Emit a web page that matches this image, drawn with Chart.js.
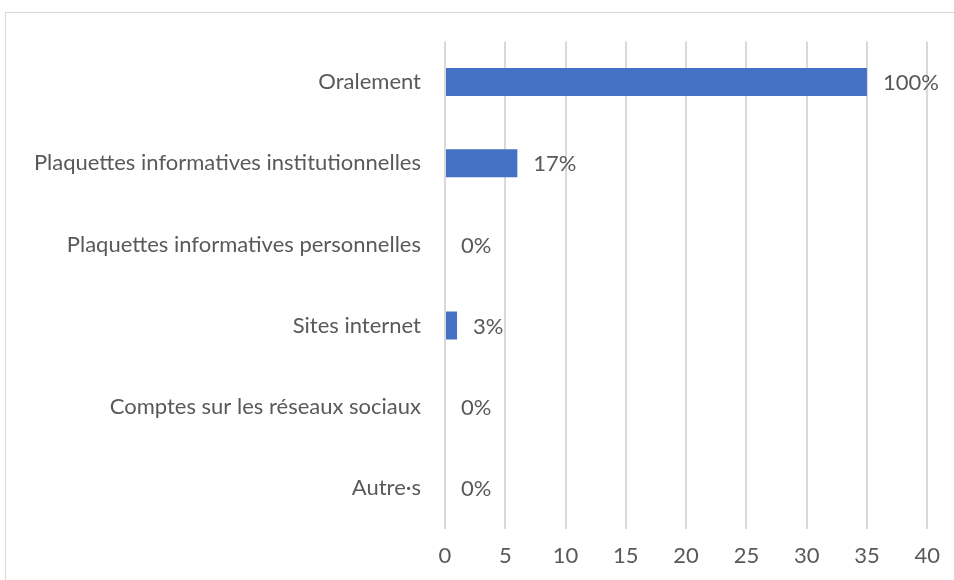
<!DOCTYPE html>
<html>
<head>
<meta charset="utf-8">
<script src="https://cdn.jsdelivr.net/npm/chart.js@4"></script>
<style>
  html, body { margin: 0; padding: 0; background: #ffffff; overflow: hidden; }
  #frame {
    position: absolute; left: 5px; top: 12px;
    width: 1000px; height: 620px;
    border: 1px solid #d9d9d9;
  }
  #wrap { position: absolute; left: 0; top: 0; width: 954px; height: 580px; }
</style>
</head>
<body>
<div id="frame"></div>
<div id="wrap"><canvas id="barChart"></canvas></div>
<script>
const categories = [
    "Oralement",
    "Plaquettes informatives institutionnelles",
    "Plaquettes informatives personnelles",
    "Sites internet",
    "Comptes sur les réseaux sociaux",
    "Autre·s"
];
const counts = [35, 6, 0, 1, 0, 0];
const percentLabels = ["100%", "17%", "0%", "3%", "0%", "0%"];
const xTicks = [0, 5, 10, 15, 20, 25, 30, 35, 40];

const textColor = "#595959";
const fontFamily = "Lato, 'Noto Sans', sans-serif";
const fontSize = 22;

// draw the percentage labels next to each bar
const barLabels = {
    id: "barLabels",
    afterDatasetsDraw(chart) {
        const ctx = chart.ctx;
        const meta = chart.getDatasetMeta(0);
        ctx.save();
        ctx.font = `${fontSize}px ${fontFamily}`;
        ctx.fillStyle = textColor;
        ctx.textAlign = "left";
        ctx.textBaseline = "middle";
        meta.data.forEach((bar, i) => {
            ctx.fillText(percentLabels[i], bar.x + 16, bar.y + 1);
        });
        ctx.restore();
    }
};

const ctx = document.getElementById("barChart").getContext("2d");
new Chart(ctx, {
    type: "bar",
    data: {
        labels: categories,
        datasets: [{
            data: counts,
            backgroundColor: "#4472c4",
            borderWidth: 0,
            barPercentage: 1,
            categoryPercentage: 0.345
        }]
    },
    options: {
        indexAxis: "y",
        responsive: true,
        maintainAspectRatio: false,
        animation: false,
        layout: { padding: { top: 41.5, right: 24.5, bottom: 0, left: 0 } },
        plugins: {
            legend: { display: false },
            tooltip: { enabled: false }
        },
        scales: {
            x: {
                min: xTicks[0],
                max: xTicks[xTicks.length - 1],
                afterBuildTicks(scale) {
                    scale.ticks = xTicks.map(v => ({ value: v }));
                },
                afterFit(scale) { scale.height = 51.5; },
                grid: { color: "#d9d9d9", lineWidth: 2, drawTicks: false },
                border: { display: false },
                ticks: {
                    color: textColor,
                    padding: 14,
                    font: { family: fontFamily, size: fontSize }
                }
            },
            y: {
                afterFit(scale) { scale.width = 445; },
                grid: { display: false, drawTicks: false },
                border: { display: false },
                ticks: {
                    color: textColor,
                    padding: 24,
                    font: { family: fontFamily, size: fontSize }
                }
            }
        }
    },
    plugins: [barLabels]
});
</script>
</body>
</html>
